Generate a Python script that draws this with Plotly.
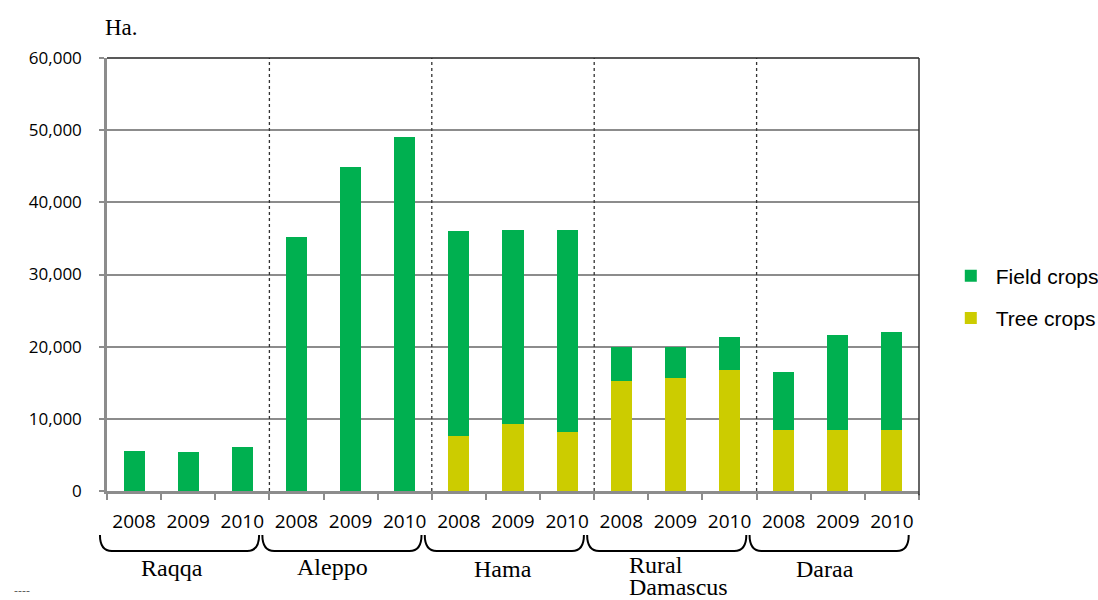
import plotly.graph_objects as go

regions = ["Raqqa", "Aleppo", "Hama", "Rural Damascus", "Daraa"]
years = ["2008", "2009", "2010"]
tree_crops = [0, 0, 0, 0, 0, 0, 7600, 9300, 8200, 15300, 15700, 16800, 8500, 8500, 8500]
field_crops = [5600, 5400, 6100, 35200, 44900, 49000, 28400, 26900, 28000, 4700, 4300, 4600, 8000, 13100, 13600]
y_ticks = [0, 10000, 20000, 30000, 40000, 50000, 60000]

cats = [f"{r} {y}" for r in regions for y in years]
year_labels = [y for r in regions for y in years]
n = len(cats)

GREEN = "#00B050"
YELLOW = "#CCCC00"
GRAY = "#8c8c8c"

fig = go.Figure()
fig.add_trace(go.Bar(x=cats, y=tree_crops, name="Tree crops", marker=dict(color=YELLOW, line=dict(width=0)),
                     width=0.39, legendgroup="t", legendrank=2))
fig.add_trace(go.Bar(x=cats, y=field_crops, name="Field crops", marker=dict(color=GREEN, line=dict(width=0)),
                     width=0.39, legendgroup="f", legendrank=1))

shapes = []
# dotted separators between regions
for g in range(1, len(regions)):
    b = 3 * g - 0.5
    shapes.append(dict(type="line", xref="x", yref="y", x0=b, x1=b, y0=0, y1=60000,
                       line=dict(color="#333333", width=1.3, dash="dot"), layer="above"))
# top and right border
shapes.append(dict(type="line", xref="paper", yref="paper", x0=0, x1=1, y0=1, y1=1,
                   line=dict(color="#222222", width=1.5)))
shapes.append(dict(type="line", xref="paper", yref="paper", x0=1, x1=1, y0=-0.01, y1=1,
                   line=dict(color="#333333", width=1.5)))

# braces below each region
def px2py(py):
    return (491 - py) / 433.0

def d2px(d):
    return (d + 0.5) / n

t = px2py(535)
bt = px2py(551)
r = 0.22
for g in range(len(regions)):
    L = 3 * g - 0.63
    R = 3 * g + 2.31
    path = (f"M {d2px(L)},{t} Q {d2px(L)},{bt} {d2px(L + r)},{bt} "
            f"L {d2px(R - r)},{bt} Q {d2px(R)},{bt} {d2px(R)},{t}")
    shapes.append(dict(type="path", xref="paper", yref="paper", path=path,
                       line=dict(color="black", width=2)))

serif = "Liberation Serif"
annotations = [
    dict(text="Ha.", x=(103 - 107) / 812, y=px2py(27), xref="paper", yref="paper",
         xanchor="left", yanchor="middle", showarrow=False, font=dict(family=serif, size=23, color="black")),
    dict(text="----", x=(22 - 107) / 812, y=px2py(590), xref="paper", yref="paper",
         xanchor="center", yanchor="middle", showarrow=False, font=dict(family="DejaVu Sans", size=11, color="#555555")),
]
label_pos = {"Raqqa": (172, 568, "center"), "Aleppo": (332, 567, "center"), "Hama": (503, 569, "center"),
             "Daraa": (825, 569, "center")}
for name, (lx, ly, anc) in label_pos.items():
    annotations.append(dict(text=name, x=(lx - 107) / 812, y=px2py(ly), xref="paper", yref="paper",
                            xanchor=anc, yanchor="middle", showarrow=False,
                            font=dict(family=serif, size=24, color="black")))
for word, ly in (("Rural", 565), ("Damascus", 587)):
    annotations.append(dict(text=word, x=(627 - 107) / 812, y=px2py(ly), xref="paper", yref="paper",
                            xanchor="left", yanchor="middle", showarrow=False,
                            font=dict(family=serif, size=24, color="black")))

fig.update_layout(
    width=1098, height=600, autosize=False,
    margin=dict(l=107, r=179, t=58, b=109, autoexpand=False),
    paper_bgcolor="white", plot_bgcolor="white",
    barmode="stack",
    showlegend=True,
    legend=dict(x=1.033, y=0.448, xanchor="left", yanchor="middle", traceorder="grouped",
                tracegroupgap=12, itemwidth=40,
                font=dict(family="Liberation Sans", size=21, color="black"),
                bgcolor="rgba(0,0,0,0)"),
    xaxis=dict(type="category", categoryorder="array", categoryarray=cats,
               tickmode="array", tickvals=cats, ticktext=year_labels,
               ticks="outside", tickson="boundaries", ticklen=6, tickcolor=GRAY, tickwidth=1.5,
               showline=True, linecolor=GRAY, linewidth=2.5, showgrid=False,
               ticklabelstandoff=11,
               tickfont=dict(family="Open Sans", size=19, color="black"), range=[-0.5, n - 0.5]),
    yaxis=dict(range=[0, 60000], tickmode="array", tickvals=y_ticks,
               tickformat=",", ticks="outside", ticklen=5, tickcolor=GRAY, tickwidth=1.5,
               showline=True, linecolor=GRAY, linewidth=2.5,
               showgrid=True, gridcolor=GRAY, gridwidth=1.5, zeroline=False,
               ticklabelstandoff=14,
               tickfont=dict(family="Open Sans", size=17, color="black")),
    shapes=shapes, annotations=annotations,
)

fig.write_html("out.html")
